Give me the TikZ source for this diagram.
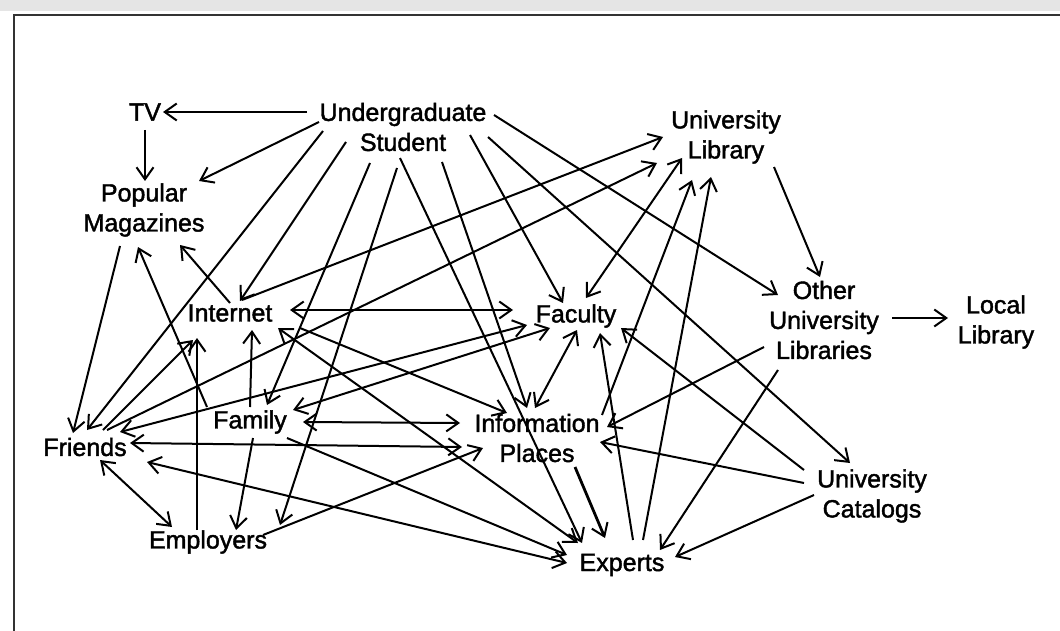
\documentclass[tikz,border=0pt]{standalone}
\usepackage{fontspec}
\setmainfont{Liberation Sans}[FakeBold=1.6]
\usetikzlibrary{arrows.meta,calc}
\begin{document}
\begin{tikzpicture}[x=1pt,y=-1pt,
  lbl/.style={align=center,inner sep=0pt,text=black,font=\fontsize{25}{30}\selectfont},
  tip/.tip={Straight Barb[length=12pt,width=17pt,line width=2pt]},
  arr/.style={line width=2pt,draw=black,-tip},
  darr/.style={line width=2pt,draw=black,tip-tip},
  thickarr/.style={arr,line width=2.8pt}
]
\useasboundingbox (0,0) rectangle (1060,631);
\fill[white] (0,0) rectangle (1060,631);
\fill[black!10] (0,0) rectangle (1060,11);
\draw[line width=2pt,black!80] (14,631) -- (14,15) -- (1060,15);

% nodes
\node[lbl] (tv)   at (145,112) {TV};
\node[lbl] (ug)   at (403,127) {Undergraduate\\Student};
\node[lbl] (pop)  at (144,210) {Popular\\Magazines};
\node[lbl] (ul)   at (726,137) {University\\Library};
\node[lbl] (inet) at (230,313) {Internet};
\node[lbl] (fac)  at (576,316) {Faculty};
\node[lbl] (oul)  at (824,320) {Other\\University\\Libraries};
\node[lbl] (loc)  at (996,322) {Local\\Library};
\node[lbl] (fam)  at (250,422) {Family};
\node[lbl] (info) at (537,438) {Information\\Places};
\node[lbl] (fr)   at (85,447)  {Friends};
\node[lbl] (cat)  at (872,496) {University\\Catalogs};
\node[lbl] (emp)  at (208,542) {Employers};
\node[lbl] (exp)  at (622,565) {Experts};

% from Undergraduate Student
\draw[arr] ($(ug)+(-96,-15)$) -- ($(tv)+(18,0)$);
\draw[arr] ($(ug)+(-84,-5)$) -- ($(pop)+(55,-29)$);
\draw[arr] ($(ug)+(-80,4)$) -- ($(fr)+(2,-17)$);
\draw[arr] ($(ug)+(-57,15)$) -- ($(inet)+(10,-12)$);
\draw[arr] ($(ug)+(-33,36)$) -- ($(fam)+(17,-17)$);
\draw[arr] ($(ug)+(-6,41)$) -- ($(emp)+(72,-17)$);
\draw[arr] ($(ug)+(-3,31)$) -- ($(exp)+(-40,-22)$);
\draw[arr] ($(ug)+(39,35)$) -- ($(info)+(-10,-30)$);
\draw[arr] ($(ug)+(67,8)$) -- ($(fac)+(-13,-13)$);
\draw[arr] ($(ug)+(85,10)$) -- ($(cat)+(-22,-33)$);
\draw[arr] ($(ug)+(91,-12)$) -- ($(oul)+(-46,-25)$);

% TV, Popular Magazines
\draw[thickarr] ($(tv)+(0,18)$) -- ($(pop)+(1,-29)$);
\draw[arr] ($(pop)+(-24,36)$) -- ($(fr)+(-12,-14)$);
\draw[arr] ($(fam)+(-43,-15)$) -- ($(pop)+(-6,37)$);
\draw[arr] ($(inet)+(0,-10)$) -- ($(pop)+(36,35)$);

% Internet
\draw[darr] ($(inet)+(60,-3)$) -- ($(fac)+(-63,-6)$);
\draw[arr] ($(inet)+(12,-13)$) -- ($(ul)+(-63,0)$);
\draw[arr] ($(inet)+(70,15)$) -- ($(info)+(-30,-25)$);
\draw[darr] ($(inet)+(48,15)$) -- ($(exp)+(-44,-22)$);

% Friends
\draw[arr] ($(fr)+(22,-17)$) -- ($(ul)+(-69,26)$);
\draw[darr] ($(fr)+(35,-15)$) -- ($(fac)+(-49,9)$);
\draw[arr] ($(fr)+(18,-17)$) -- ($(inet)+(-37,27)$);
\draw[darr] ($(fr)+(15,13)$) -- ($(emp)+(-36,-15)$);
\draw[darr] ($(fr)+(45,-4)$) -- ($(info)+(-75,9)$);
\draw[darr] ($(fr)+(62,15)$) -- ($(exp)+(-55,-2)$);

% Family
\draw[darr] ($(fam)+(43,-12)$) -- ($(fac)+(-26,12)$);
\draw[arr] ($(fam)+(3,16)$) -- ($(emp)+(28,-12)$);
\draw[arr] ($(fam)+(0,-15)$) -- ($(inet)+(22,17)$);
\draw[darr] ($(fam)+(53,0)$) -- ($(info)+(-77,-15)$);
\draw[arr] ($(fam)+(37,16)$) -- ($(exp)+(-55,-10)$);

% Employers
\draw[arr] ($(emp)+(-11,-12)$) -- ($(inet)+(-33,25)$);
\draw[arr] ($(emp)+(55,-7)$) -- ($(info)+(-54,10)$);

% Faculty, University Library
\draw[darr] ($(ul)+(-44,21)$) -- ($(fac)+(10,-18)$);
\draw[darr] ($(fac)+(1,14)$) -- ($(info)+(-2,-30)$);
\draw[arr] ($(exp)+(11,-25)$) -- ($(fac)+(24,17)$);
\draw[arr] ($(cat)+(-68,-26)$) -- ($(fac)+(45,12)$);
\draw[arr] ($(info)+(65,-23)$) -- ($(ul)+(-34,43)$);
\draw[arr] ($(exp)+(21,-25)$) -- ($(ul)+(-15,40)$);
\draw[arr] ($(ul)+(48,30)$) -- ($(oul)+(-4,-43)$);

% Other University Libraries, Catalogs
\draw[arr] ($(oul)+(68,-2)$) -- ($(loc)+(-48,-4)$);
\draw[arr] ($(oul)+(-60,27)$) -- ($(info)+(70,-11)$);
\draw[arr] ($(oul)+(-46,50)$) -- ($(exp)+(38,-15)$);
\draw[arr] ($(cat)+(-68,-13)$) -- ($(info)+(63,4)$);
\draw[arr] ($(cat)+(-58,-1)$) -- ($(exp)+(53,-8)$);
\draw[thickarr] ($(info)+(38,29)$) -- ($(exp)+(-17,-27)$);
\end{tikzpicture}
\end{document}
